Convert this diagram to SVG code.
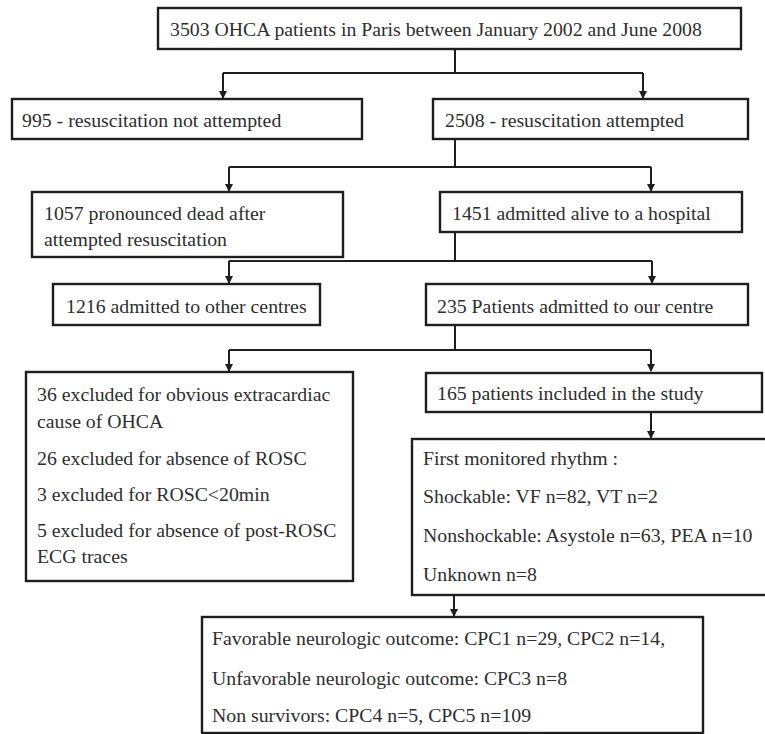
<svg xmlns="http://www.w3.org/2000/svg" width="765" height="734" viewBox="0 0 765 734">
<style>
.box{fill:#fff;stroke:#1e1e1e;stroke-width:2.4}
.t{font-family:"Liberation Serif","Times New Roman",serif;font-size:19.8px;fill:#2e2e2e}
.c{fill:none;stroke:#1e1e1e;stroke-width:2}
</style>
<defs>
<marker id="ah" markerUnits="userSpaceOnUse" markerWidth="8" markerHeight="10" refX="7" refY="4" orient="auto">
<path d="M0,0 L8,4 L0,8 Z" fill="#1e1e1e"/>
</marker>
</defs>
<rect width="765" height="734" fill="#fff"/>
<g id="connectors">
<path class="c" d="M455,49 V73 M223,73 H643"/>
<path class="c" d="M223,73 V98" marker-end="url(#ah)"/>
<path class="c" d="M643,73 V98" marker-end="url(#ah)"/>
<path class="c" d="M455,139 V167 M229,167 H651"/>
<path class="c" d="M229,167 V191" marker-end="url(#ah)"/>
<path class="c" d="M651,167 V191" marker-end="url(#ah)"/>
<path class="c" d="M455,232 V261 M229,261 H652"/>
<path class="c" d="M229,261 V283" marker-end="url(#ah)"/>
<path class="c" d="M652,261 V283" marker-end="url(#ah)"/>
<path class="c" d="M455,325 V350 M229,350 H651"/>
<path class="c" d="M229,350 V371" marker-end="url(#ah)"/>
<path class="c" d="M651,350 V371" marker-end="url(#ah)"/>
<path class="c" d="M651,412 V438" marker-end="url(#ah)"/>
<path class="c" d="M454,595 V616" marker-end="url(#ah)"/>
</g>
<g id="n_total"><rect class="box" x="158" y="8" width="583" height="41"/><text class="t" x="170" y="36">3503 OHCA patients in Paris between January 2002 and June 2008</text></g>
<g id="n_notattempted"><rect class="box" x="12" y="99" width="350" height="40"/><text class="t" x="22" y="127">995 - resuscitation not attempted</text></g>
<g id="n_attempted"><rect class="box" x="433" y="99" width="315" height="40"/><text class="t" x="445" y="127">2508 - resuscitation attempted</text></g>
<g id="n_dead"><rect class="box" x="32" y="192" width="311" height="65"/><text class="t" x="44" y="220">1057 pronounced dead after</text><text class="t" x="44" y="246">attempted resuscitation</text></g>
<g id="n_alive"><rect class="box" x="440" y="192" width="302" height="40"/><text class="t" x="452" y="220">1451 admitted alive to a hospital</text></g>
<g id="n_other"><rect class="box" x="53" y="284" width="267" height="41"/><text class="t" x="66" y="313">1216 admitted to other centres</text></g>
<g id="n_our"><rect class="box" x="426" y="284" width="322" height="41"/><text class="t" x="437" y="313">235 Patients admitted to our centre</text></g>
<g id="n_excluded"><rect class="box" x="26" y="372" width="327" height="209"/>
<text class="t" x="37" y="401">36 excluded for obvious extracardiac</text>
<text class="t" x="37" y="428">cause of OHCA</text>
<text class="t" x="37" y="465">26 excluded for absence of ROSC</text>
<text class="t" x="37" y="501">3 excluded for ROSC&lt;20min</text>
<text class="t" x="37" y="537">5 excluded for absence of post-ROSC</text>
<text class="t" x="37" y="563">ECG traces</text></g>
<g id="n_included"><rect class="box" x="426" y="373" width="336" height="39"/><text class="t" x="437" y="400">165 patients included in the study</text></g>
<g id="n_rhythm"><rect class="box" x="412" y="439" width="360" height="156"/>
<text class="t" x="423" y="465">First monitored rhythm :</text>
<text class="t" x="423" y="503">Shockable: VF n=82, VT n=2</text>
<text class="t" x="423" y="542">Nonshockable: Asystole n=63, PEA n=10</text>
<text class="t" x="423" y="581">Unknown n=8</text></g>
<g id="n_outcome"><rect class="box" x="202" y="617" width="501" height="116"/>
<text class="t" x="212" y="645">Favorable neurologic outcome: CPC1 n=29, CPC2 n=14,</text>
<text class="t" x="212" y="685">Unfavorable neurologic outcome: CPC3 n=8</text>
<text class="t" x="212" y="722">Non survivors: CPC4 n=5, CPC5 n=109</text></g>
</svg>
